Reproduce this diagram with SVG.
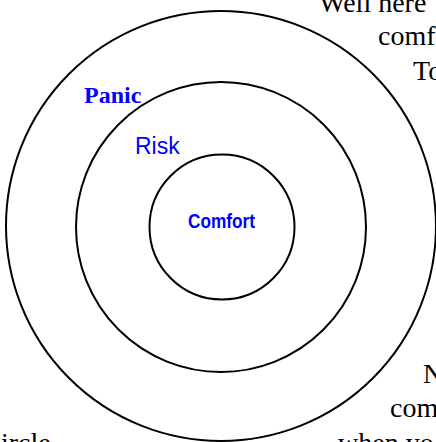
<svg xmlns="http://www.w3.org/2000/svg" width="436" height="442" viewBox="0 0 436 442">
<style>
.ring{fill:none;stroke:#000;stroke-width:2}
.body{font-family:"Liberation Serif","Times New Roman",serif;font-size:28px;fill:#000}
.panic{font-family:"Liberation Serif","Times New Roman",serif;font-weight:bold;font-size:24px;fill:#0000ff}
.risk{font-family:"Liberation Sans",Arial,sans-serif;font-size:23px;fill:#0000ff}
.comfort{font-family:"Liberation Sans Narrow","Liberation Sans",Arial,sans-serif;font-size:21px;font-weight:bold;fill:#0000ff}
</style>
<rect width="436" height="442" fill="#fff"/>
<g id="outer"><circle class="ring" cx="221" cy="226" r="215"/><text class="panic" x="84" y="103">Panic</text></g>
<g id="middle"><circle class="ring" cx="221" cy="227" r="145"/><text class="risk" x="135" y="154">Risk</text></g>
<g id="inner"><circle class="ring" cx="222" cy="227" r="72.5"/><text class="comfort" x="188" y="228" textLength="67" lengthAdjust="spacingAndGlyphs">Comfort</text></g>
<g id="connectors"></g>
<g id="notes">
<text class="body" x="319" y="12">Well here</text>
<text class="body" x="378" y="45">comf</text>
<text class="body" x="413" y="80">To</text>
<text class="body" x="423" y="383">N</text>
<text class="body" x="390" y="417">com</text>
<text class="body" x="1" y="452">ircle</text>
<text class="body" x="338" y="452">when yo</text>
</g>
</svg>
